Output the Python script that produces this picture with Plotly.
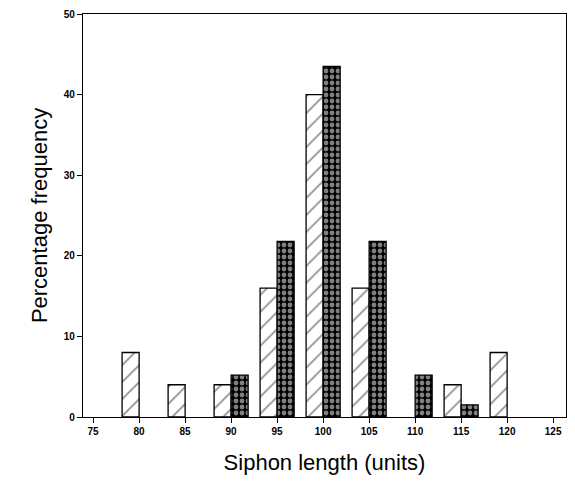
import plotly.graph_objects as go

# Data
hatched_x = [80, 85, 90, 95, 100, 105, 115, 120]
hatched_y = [8, 4, 4, 16, 40, 16, 4, 8]
dotted_x = [90, 95, 100, 105, 110, 115]
dotted_y = [5.2, 21.8, 43.5, 21.8, 5.2, 1.5]
x_ticks = [75, 80, 85, 90, 95, 100, 105, 110, 115, 120, 125]
y_ticks = [0, 10, 20, 30, 40, 50]

FONT = "Liberation Sans"

fig = go.Figure()
fig.add_trace(go.Bar(
    x=hatched_x, y=hatched_y, name="A",
    marker=dict(color="white", line=dict(color="black", width=1.3),
                pattern=dict(shape="/", fgcolor="black", bgcolor="white",
                             size=12, solidity=0.13)),
))
fig.add_trace(go.Bar(
    x=dotted_x, y=dotted_y, name="B",
    marker=dict(color="black", line=dict(color="black", width=1.3),
                pattern=dict(shape=".", fgcolor="white", bgcolor="black",
                             size=6, solidity=0.5)),
))

fig.update_layout(
    width=575, height=498,
    margin=dict(l=83, r=9, t=14, b=81),
    paper_bgcolor="white", plot_bgcolor="white",
    barmode="group", bargap=0.26, bargroupgap=0,
    showlegend=False,
    font=dict(family=FONT, color="black"),
)
fig.update_xaxes(
    range=[73.9, 126.4], tickvals=x_ticks, ticktext=[str(t) for t in x_ticks],
    showline=True, linecolor="black", linewidth=1.3, mirror=True,
    ticks="outside", ticklen=5, tickcolor="black",
    showgrid=False, zeroline=False,
    tickfont=dict(size=10, family=FONT, color="black", weight="bold"),
    title=dict(text="Siphon length (units)", font=dict(size=22, family=FONT), standoff=18),
)
fig.update_yaxes(
    range=[0, 50], tickvals=y_ticks,
    showline=True, linecolor="black", linewidth=1.3, mirror=True,
    ticks="outside", ticklen=5, tickcolor="black",
    showgrid=False, zeroline=False,
    tickfont=dict(size=10, family=FONT, color="black", weight="bold"),
    title=dict(text="Percentage frequency", font=dict(size=22, family=FONT), standoff=10),
)

fig.write_html("out.html")
